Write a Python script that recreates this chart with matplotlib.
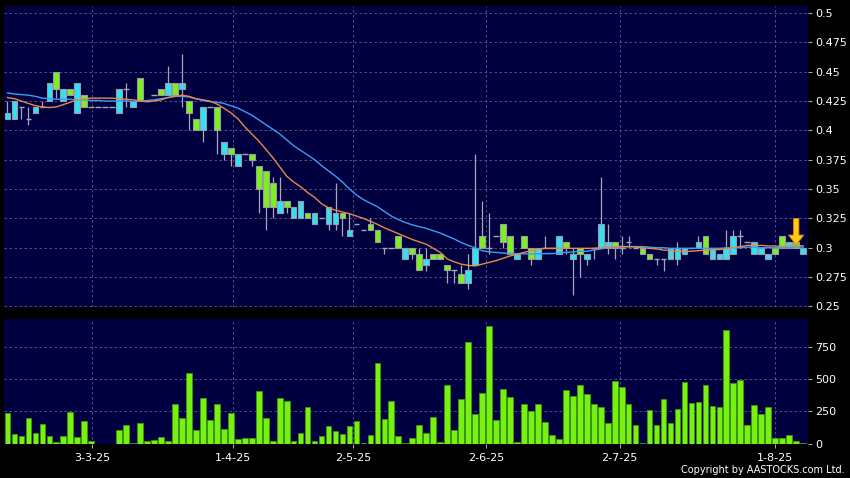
import matplotlib
matplotlib.use("Agg")
import matplotlib.pyplot as plt
import numpy as np

# daily candles (index = trading day)
opens = [0.410, 0.410, 0.420, 0.410, 0.415, 0.420, 0.425, 0.450, 0.425, 0.435,
         0.415, 0.430, 0.420, 0.420, 0.420, 0.420, 0.415, 0.435, 0.420, 0.445,
         0.425, 0.430, 0.435, 0.430, 0.440, 0.435, 0.425, 0.410, 0.400, 0.420,
         0.420, 0.380, 0.385, 0.370, 0.380, 0.380, 0.370, 0.365, 0.355, 0.330,
         0.340, 0.325, 0.325, 0.330, 0.320, 0.325, 0.320, 0.320, 0.330, 0.310,
         0.320, 0.315, 0.320, 0.315, 0.300, 0.300, 0.310, 0.290, 0.300, 0.295,
         0.285, 0.295, 0.295, 0.285, 0.281, 0.2775, 0.270, 0.285, 0.310, 0.300,
         0.310, 0.320, 0.310, 0.290, 0.310, 0.300, 0.290, 0.300, 0.300, 0.295,
         0.305, 0.290, 0.300, 0.290, 0.300, 0.300, 0.300, 0.305, 0.300, 0.305,
         0.300, 0.300, 0.295, 0.290, 0.290, 0.290, 0.290, 0.295, 0.300, 0.300,
         0.310, 0.290, 0.290, 0.290, 0.295, 0.310, 0.305, 0.295, 0.295, 0.290,
         0.300, 0.310, 0.300, 0.305, 0.295]
closes = [0.415, 0.425, 0.420, 0.410, 0.420, 0.420, 0.440, 0.435, 0.435, 0.430,
          0.440, 0.420, 0.420, 0.420, 0.420, 0.420, 0.435, 0.435, 0.425, 0.425,
          0.425, 0.430, 0.430, 0.440, 0.430, 0.440, 0.415, 0.400, 0.420, 0.420,
          0.400, 0.390, 0.380, 0.380, 0.380, 0.375, 0.350, 0.335, 0.335, 0.340,
          0.335, 0.335, 0.340, 0.325, 0.330, 0.325, 0.335, 0.330, 0.325, 0.315,
          0.320, 0.315, 0.315, 0.305, 0.300, 0.300, 0.300, 0.300, 0.295, 0.281,
          0.290, 0.290, 0.290, 0.281, 0.281, 0.270, 0.281, 0.300, 0.300, 0.300,
          0.310, 0.305, 0.295, 0.295, 0.300, 0.290, 0.300, 0.300, 0.300, 0.310,
          0.300, 0.295, 0.295, 0.295, 0.300, 0.320, 0.305, 0.300, 0.300, 0.305,
          0.300, 0.295, 0.290, 0.290, 0.290, 0.300, 0.300, 0.300, 0.300, 0.305,
          0.295, 0.300, 0.295, 0.300, 0.310, 0.310, 0.305, 0.305, 0.300, 0.295,
          0.295, 0.300, 0.305, 0.300, 0.300]
highs = [0.425, 0.425, 0.420, 0.420, 0.420, 0.425, 0.440, 0.450, 0.435, 0.435,
         0.440, 0.430, 0.420, 0.420, 0.420, 0.420, 0.435, 0.440, 0.425, 0.445,
         0.425, 0.430, 0.435, 0.455, 0.440, 0.465, 0.425, 0.410, 0.420, 0.420,
         0.420, 0.390, 0.385, 0.380, 0.380, 0.380, 0.370, 0.365, 0.360, 0.360,
         0.340, 0.335, 0.340, 0.330, 0.330, 0.325, 0.335, 0.355, 0.330, 0.330,
         0.320, 0.315, 0.325, 0.315, 0.300, 0.300, 0.310, 0.300, 0.300, 0.300,
         0.300, 0.295, 0.295, 0.285, 0.281, 0.285, 0.295, 0.380, 0.340, 0.330,
         0.310, 0.320, 0.310, 0.295, 0.310, 0.300, 0.300, 0.310, 0.300, 0.310,
         0.305, 0.300, 0.300, 0.295, 0.300, 0.360, 0.320, 0.305, 0.310, 0.310,
         0.300, 0.300, 0.295, 0.290, 0.290, 0.300, 0.305, 0.300, 0.300, 0.310,
         0.310, 0.300, 0.295, 0.315, 0.315, 0.315, 0.305, 0.305, 0.300, 0.295,
         0.300, 0.310, 0.305, 0.305, 0.300]
lows = [0.410, 0.410, 0.410, 0.405, 0.415, 0.420, 0.425, 0.428, 0.425, 0.430,
        0.415, 0.420, 0.420, 0.420, 0.420, 0.420, 0.415, 0.420, 0.420, 0.425,
        0.425, 0.430, 0.430, 0.430, 0.430, 0.420, 0.400, 0.400, 0.390, 0.420,
        0.380, 0.375, 0.370, 0.370, 0.380, 0.370, 0.330, 0.315, 0.325, 0.330,
        0.330, 0.325, 0.325, 0.325, 0.320, 0.325, 0.315, 0.315, 0.310, 0.310,
        0.320, 0.315, 0.315, 0.305, 0.295, 0.300, 0.300, 0.290, 0.290, 0.281,
        0.280, 0.290, 0.290, 0.270, 0.270, 0.270, 0.265, 0.285, 0.300, 0.295,
        0.310, 0.300, 0.295, 0.290, 0.300, 0.285, 0.290, 0.300, 0.300, 0.295,
        0.295, 0.260, 0.275, 0.285, 0.290, 0.300, 0.295, 0.290, 0.295, 0.300,
        0.300, 0.295, 0.290, 0.285, 0.280, 0.290, 0.285, 0.295, 0.300, 0.300,
        0.295, 0.290, 0.290, 0.290, 0.295, 0.300, 0.305, 0.295, 0.295, 0.290,
        0.295, 0.300, 0.300, 0.300, 0.295]

# volume ('000)
volumes = [237, 73, 60, 200, 78, 154, 55, 13, 60, 242,
           47, 172, 16, 0, 0, 0, 109, 148, 2, 161,
           16, 31, 47, 23, 310, 195, 547, 109, 352, 187,
           310, 115, 240, 36, 42, 42, 406, 195, 16, 354,
           328, 21, 78, 286, 16, 60, 138, 94, 73, 133,
           177, 2, 68, 628, 193, 331, 60, 2, 42, 145,
           83, 208, 8, 456, 109, 347, 794, 233, 393, 920,
           184, 425, 365, 12, 305, 250, 311, 167, 66, 32,
           415, 368, 454, 385, 310, 281, 160, 487, 443, 305,
           146, 3, 258, 148, 344, 159, 271, 479, 312, 325,
           453, 292, 286, 888, 469, 495, 143, 302, 229, 281,
           44, 42, 70, 16, 3]

# moving averages as drawn on the chart
ma_short = [0.428, 0.427, 0.425, 0.423, 0.421, 0.420, 0.4195, 0.420, 0.422, 0.424,
            0.426, 0.427, 0.4275, 0.4275, 0.4275, 0.4275, 0.427, 0.4265, 0.426, 0.425,
            0.4245, 0.425, 0.426, 0.428, 0.429, 0.430, 0.429, 0.427, 0.426, 0.425,
            0.4225, 0.419, 0.415, 0.410, 0.403, 0.397, 0.391, 0.384, 0.377, 0.369,
            0.361, 0.356, 0.352, 0.347, 0.343, 0.3375, 0.334, 0.332, 0.3305, 0.329,
            0.327, 0.325, 0.3225, 0.320, 0.317, 0.3145, 0.312, 0.3095, 0.307, 0.305,
            0.303, 0.2995, 0.296, 0.2905, 0.288, 0.286, 0.285, 0.2845, 0.286, 0.2875,
            0.289, 0.291, 0.293, 0.2945, 0.296, 0.2975, 0.299, 0.2995, 0.2995, 0.2995,
            0.2995, 0.2995, 0.2995, 0.2995, 0.2995, 0.300, 0.3005, 0.301, 0.301, 0.301,
            0.3005, 0.300, 0.2995, 0.299, 0.298, 0.2975, 0.297, 0.297, 0.297, 0.2975,
            0.298, 0.298, 0.2985, 0.299, 0.300, 0.301, 0.302, 0.302, 0.302, 0.3015,
            0.3015, 0.301, 0.3015, 0.302, 0.3015]
ma_long = [0.432, 0.431, 0.4305, 0.430, 0.429, 0.4275, 0.427, 0.4265, 0.4265, 0.4265,
           0.426, 0.426, 0.4255, 0.4255, 0.425, 0.425, 0.425, 0.425, 0.4245, 0.425,
           0.4255, 0.426, 0.427, 0.428, 0.429, 0.429, 0.4285, 0.427, 0.4255, 0.4245,
           0.424, 0.423, 0.421, 0.419, 0.416, 0.413, 0.409, 0.405, 0.401, 0.397,
           0.392, 0.387, 0.383, 0.379, 0.375, 0.370, 0.3655, 0.361, 0.356, 0.350,
           0.345, 0.341, 0.338, 0.335, 0.331, 0.327, 0.324, 0.3215, 0.3195, 0.318,
           0.3165, 0.3145, 0.3125, 0.310, 0.3075, 0.3045, 0.302, 0.300, 0.2975, 0.2965,
           0.296, 0.2955, 0.295, 0.295, 0.2948, 0.2948, 0.2948, 0.295, 0.295, 0.2955,
           0.296, 0.2965, 0.297, 0.297, 0.298, 0.299, 0.300, 0.3005, 0.3005, 0.301,
           0.301, 0.301, 0.3005, 0.300, 0.300, 0.2995, 0.2995, 0.2995, 0.2995, 0.2995,
           0.2995, 0.2995, 0.2995, 0.300, 0.300, 0.300, 0.3005, 0.3005, 0.300, 0.300,
           0.300, 0.300, 0.300, 0.3005, 0.3005]

date_labels = ["3-3-25", "1-4-25", "2-5-25", "2-6-25", "2-7-25", "1-8-25"]
date_pos = [12.1, 32.3, 49.5, 68.6, 87.7, 109.9]

price_ticks = [0.25, 0.275, 0.3, 0.325, 0.35, 0.375, 0.4, 0.425, 0.45, 0.475, 0.5]
price_labels = ["0.25", "0.275", "0.3", "0.325", "0.35", "0.375", "0.4", "0.425", "0.45", "0.475", "0.5"]
vol_ticks = [0, 250, 500, 750]

BG = "#000000"
PANEL = "#000040"
GRID = "#5e5e92"
UP = "#2fe3f2"
DOWN = "#7ef01e"
EDGE = "#9a9aa8"
VOLC = "#77f012"

W, H = 850, 478
fig = plt.figure(figsize=(W / 100, H / 100), dpi=100, facecolor=BG)
ax = fig.add_axes([4 / W, 1 - 307 / H, 804 / W, 301 / H])
axv = fig.add_axes([4 / W, 1 - 443.5 / H, 804 / W, 124.5 / H])

x = np.arange(len(opens))
o = np.array(opens)
c = np.array(closes)
up = c >= o
body_w = 0.82

for a in (ax, axv):
    a.set_facecolor(PANEL)
    for s in a.spines.values():
        s.set_visible(False)
    a.set_xlim(-0.5, 114.7)
    a.set_xticks(date_pos)
    a.yaxis.tick_right()
    a.grid(True, color=GRID, linestyle=(0, (3, 3)), linewidth=0.6)
    a.set_axisbelow(True)
    a.tick_params(colors="#cccccc", labelcolor="white", length=3, width=0.6,
                  labelsize=8, pad=2)

# candles
ax.vlines(x, lows, highs, color="#a8a8b4", linewidth=0.9, zorder=2)
flat = np.abs(c - o) < 1e-9
ax.hlines(c[flat], x[flat] - body_w / 2, x[flat] + body_w / 2, color="#a8a8b4",
          linewidth=1.0, zorder=3)
nf = ~flat
ax.bar(x[nf], np.abs(c - o)[nf], bottom=np.minimum(o, c)[nf], width=body_w,
       color=np.where(up, UP, DOWN)[nf], edgecolor=EDGE, linewidth=0.8, zorder=4)

ax.plot(x, ma_long, color="#3a9ff0", linewidth=1.0, zorder=5)
ax.plot(x, ma_short, color="#e8884a", linewidth=1.0, zorder=5)

ax.annotate("", xy=(113, 0.3025), xytext=(113, 0.325),
            arrowprops=dict(facecolor="#ffcc11", edgecolor="#d08800", width=4,
                            headwidth=11, headlength=7, linewidth=0.6), zorder=6)

ax.set_ylim(0.2495, 0.506)
ax.set_yticks(price_ticks)
ax.set_yticklabels(price_labels)
ax.set_xticklabels([])
ax.tick_params(axis="x", length=0)

axv.bar(x, volumes, width=body_w, color=VOLC, edgecolor="#3a9a08", linewidth=0.6,
        zorder=3)
axv.set_ylim(0, 971)
axv.set_yticks(vol_ticks)
axv.set_xticklabels(date_labels)
axv.tick_params(axis="x", pad=4)

fig.text(845 / W, 1 - 470 / H, "Copyright by AASTOCKS.com Ltd.", color="white",
         fontsize=7, ha="right", va="center")

fig.savefig("out.png", dpi=100, facecolor=BG)
